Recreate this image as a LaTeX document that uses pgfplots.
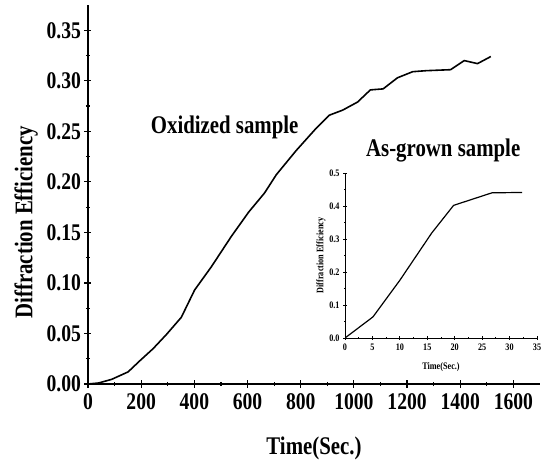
\documentclass[border=0pt]{standalone}
\usepackage{fontspec}
\setmainfont{Liberation Serif}[FakeStretch=0.82]
\usepackage{pgfplots}
\pgfplotsset{compat=1.18}

\newcommand{\bigfont}{\bfseries\fontsize{24}{24}\selectfont}
\newcommand{\labfont}{\bfseries\fontsize{25.5}{25.5}\selectfont}
\newcommand{\insetfont}{\bfseries\fontsize{10}{10}\selectfont}

\begin{document}
\begin{tikzpicture}
% keep the reference's margins
\path (-88bp,-77bp) rectangle (457bp,384bp);

\begin{axis}[
  width=452bp, height=379bp, scale only axis,
  xmin=0, xmax=1700, ymin=0, ymax=0.375,
  axis x line=bottom, axis y line=left,
  axis line style={-, line width=1.6pt},
  xtick={0,200,...,1600},
  ytick={0,0.05,...,0.35},
  minor x tick num=1, minor y tick num=1,
  major tick length=7bp, minor tick length=4bp,
  every tick/.style={black, line width=1.2pt},
  /pgf/number format/assume math mode=true,
  yticklabel style={/pgf/number format/.cd, fixed, fixed zerofill, precision=2},
  xticklabel style={/pgf/number format/1000 sep={}, yshift=-3bp},
  tick label style={font=\bigfont},
  xlabel={Time(Sec.)}, ylabel={Diffraction Efficiency},
  label style={font=\labfont},
  xlabel style={yshift=-20bp},
  ylabel style={at={(ticklabel cs:0.427)}, yshift=2bp},
]
\addplot[black, line width=1.6pt] coordinates {
(0,0) (40,0.001) (89,0.0046) (151,0.012) (195,0.023) (245,0.035)
(295,0.049) (351,0.066) (401,0.093) (464,0.116) (539,0.146)
(604,0.170) (664,0.189) (708,0.207) (783,0.231) (858,0.253)
(908,0.266) (958,0.271) (1014,0.279) (1062,0.291) (1110,0.292)
(1164,0.303) (1221,0.309) (1271,0.310) (1364,0.311) (1415,0.320)
(1465,0.317) (1515,0.324)
};
\node[font=\labfont] at (axis cs:514,0.254) {Oxidized sample};
\node[font=\labfont] at (axis cs:1336,0.231) {As-grown sample};
\end{axis}

\begin{axis}[
  at={(257bp,46bp)}, anchor=south west,
  width=192bp, height=165bp, scale only axis,
  xmin=0, xmax=35, ymin=0, ymax=0.5,
  axis x line=bottom, axis y line=left,
  axis line style={-, line width=1pt},
  xtick={0,5,...,35},
  ytick={0,0.1,...,0.5},
  minor x tick num=1, minor y tick num=1,
  major tick length=4bp, minor tick length=2bp,
  every tick/.style={black, line width=0.8pt},
  /pgf/number format/assume math mode=true,
  yticklabel style={/pgf/number format/.cd, fixed, fixed zerofill, precision=1},
  tick label style={font=\insetfont},
  xlabel={Time(Sec.)}, ylabel={Diffraction Efficiency},
  label style={font=\insetfont},
  xlabel style={yshift=-6bp}, ylabel style={yshift=-3bp},
]
\addplot[black, line width=1.2pt] coordinates {
(0,0) (5.1,0.064) (10,0.175) (15.8,0.318) (19.8,0.402) (26.8,0.440) (32.3,0.441)
};
\end{axis}
\end{tikzpicture}
\end{document}
